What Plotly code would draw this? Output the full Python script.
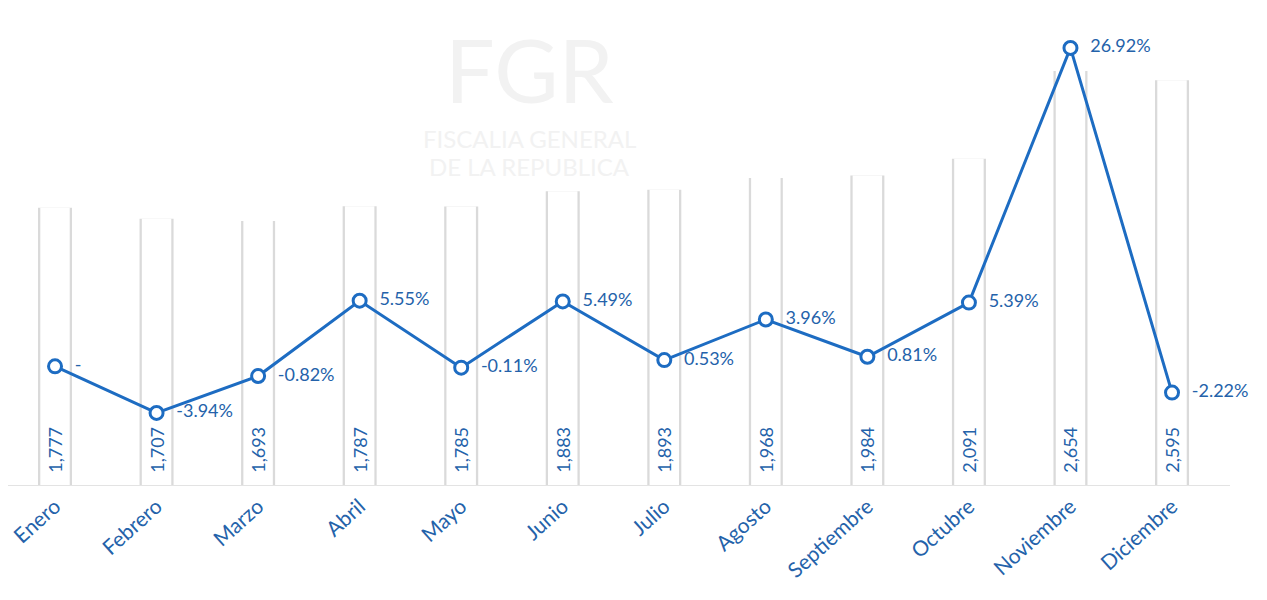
import plotly.graph_objects as go

meses = ["Enero", "Febrero", "Marzo", "Abril", "Mayo", "Junio", "Julio",
         "Agosto", "Septiembre", "Octubre", "Noviembre", "Diciembre"]
totales = [1777, 1707, 1693, 1787, 1785, 1883, 1893, 1968, 1984, 2091, 2654, 2595]
variacion = [0.0, -3.94, -0.82, 5.55, -0.11, 5.49, 0.53, 3.96, 0.81, 5.39, 26.92, -2.22]
etiquetas_var = ["-", "-3.94%", "-0.82%", "5.55%", "-0.11%", "5.49%", "0.53%",
                 "3.96%", "0.81%", "5.39%", "26.92%", "-2.22%"]
etiquetas_tot = ["1,777", "1,707", "1,693", "1,787", "1,785", "1,883", "1,893",
                 "1,968", "1,984", "2,091", "2,654", "2,595"]

BLUE = "#1d6cc2"
TXT = "#2462aa"
FONT = "Lato"
WM = "#f2f2f2"

fig = go.Figure()

# grey bar (sides) + white bar on top -> only vertical grey edges visible
fig.add_trace(go.Bar(
    x=meses, y=totales, width=0.335, yaxis="y",
    marker=dict(color="#dadada", line=dict(width=0)),
    hoverinfo="skip", showlegend=False,
))
fig.add_trace(go.Bar(
    x=meses, y=totales, width=0.29, yaxis="y",
    text=["\u00a0\u00a0" + t for t in etiquetas_tot],
    textposition="inside", insidetextanchor="start", textangle=-90,
    textfont=dict(family=FONT, size=18, color=TXT),
    constraintext="none",
    marker=dict(color="white", line=dict(width=0)),
    hoverinfo="skip", showlegend=False,
))

fig.add_trace(go.Scatter(
    x=meses, y=variacion, mode="lines+markers",
    line=dict(color=BLUE, width=3),
    marker=dict(size=13, color="white", line=dict(color=BLUE, width=3)),
    yaxis="y2", showlegend=False, cliponaxis=False,
))
fig.add_trace(go.Scatter(
    x=meses, y=variacion, text=etiquetas_var, mode="markers+text",
    textposition="middle right",
    textfont=dict(family=FONT, size=18, color=TXT),
    marker=dict(size=30, color="rgba(0,0,0,0)"),
    yaxis="y2", showlegend=False, cliponaxis=False, hoverinfo="skip",
))

# faint watermark
fig.add_annotation(text="FGR", xref="paper", yref="paper", x=0.427, y=0.935,
                   yanchor="middle", showarrow=False,
                   font=dict(family=FONT, size=88, color=WM))
fig.add_annotation(text="FISCALIA GENERAL", xref="paper", yref="paper", x=0.427, y=0.778,
                   yanchor="middle", showarrow=False,
                   font=dict(family=FONT, size=24, color=WM))
fig.add_annotation(text="DE LA REPUBLICA", xref="paper", yref="paper", x=0.427, y=0.715,
                   yanchor="middle", showarrow=False,
                   font=dict(family=FONT, size=24, color=WM))

fig.update_layout(
    width=1267, height=600,
    margin=dict(l=0, r=45, t=32, b=123),
    paper_bgcolor="white", plot_bgcolor="white",
    font=dict(family=FONT),
    barmode="overlay",
    xaxis=dict(type="category", range=[-0.463, 11.571], tickangle=-42,
               tickfont=dict(family=FONT, size=21, color=TXT),
               showline=True, linecolor="#e3e3e3", linewidth=1,
               showgrid=False, ticks="", automargin=False),
    yaxis=dict(range=[0, 2853], visible=False, showgrid=False, fixedrange=True),
    yaxis2=dict(range=[-10.03, 27.59], overlaying="y", visible=False,
                showgrid=False, zeroline=False),
)

fig.write_html("out.html")
